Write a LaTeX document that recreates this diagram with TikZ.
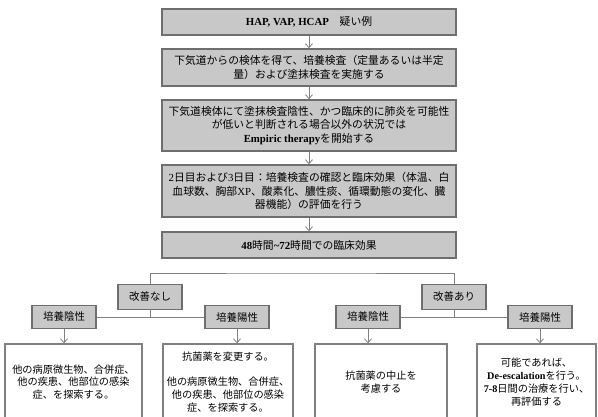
\documentclass[tikz,border=0pt]{standalone}
\usepackage{fontspec}
\setmainfont{Liberation Serif}
\newfontfamily\jpf{Noto Sans CJK JP}
\usetikzlibrary{arrows.meta}
\newcommand\latb[1]{{\rmfamily\bfseries #1}}
\newcommand\latr[1]{{\rmfamily #1}}
\definecolor{boxfill}{HTML}{C8C8C8}
\definecolor{boxline}{HTML}{6E6E6E}
\definecolor{conn}{HTML}{808080}
\begin{document}
\begin{tikzpicture}[x=1pt,y=-1pt,
  mainbox/.style={draw=boxline, line width=1.5pt, fill=boxfill, minimum width=294pt,
    inner sep=0pt, align=center, font=\jpf\fontsize{10.8}{13.5}\selectfont},
  tagbox/.style={draw=boxline, line width=1.5pt, fill=boxfill, minimum width=64pt,
    inner sep=0pt, align=center, font=\jpf\fontsize{10.5}{12}\selectfont},
  endbox/.style={draw=conn, line width=1.3pt, fill=white, minimum height=76pt,
    inner sep=0pt, align=center, font=\jpf\fontsize{10.2}{12.8}\selectfont},
  arr/.style={draw=conn, line width=0.8pt, -{Straight Barb[length=4pt,width=7pt]}},
  link/.style={draw=conn, line width=0.8pt}]
\useasboundingbox (0,0) rectangle (598,416);
\clip (0,0) rectangle (598,416);
\fill[white] (0,0) rectangle (598,416);

% main column
\node[mainbox, minimum height=26pt] (b1) at (309,22)
  {\latb{HAP, VAP, HCAP}　疑い例};
\node[mainbox, minimum height=37pt] (b2) at (309,67.5)
  {下気道からの検体を得て、培養検査（定量あるいは半定\\量）および塗抹検査を実施する};
\node[mainbox, minimum height=51pt] (b3) at (309,125.5)
  {下気道検体にて塗抹検査陰性、かつ臨床的に肺炎を可能性\\が低いと判断される場合以外の状況では\\\latb{Empiric therapy}を開始する};
\node[mainbox, minimum height=52pt] (b4) at (309,191)
  {\latr{2}日目および\latr{3}日目：培養検査の確認と臨床効果（体温、白\\血球数、胸部\latr{XP}、酸素化、膿性痰、循環動態の変化、臓\\器機能）の評価を行う};
\node[mainbox, minimum height=26pt] (b5) at (309,245)
  {\latb{48}時間\latb{\textasciitilde72}時間での臨床効果};

\draw[arr] (b1.south) -- (b2.north);
\draw[arr] (b2.south) -- (b3.north);
\draw[arr] (b3.south) -- (b4.north);
\draw[arr] (b4.south) -- (b5.north);

% second level
\node[tagbox, minimum height=25pt] (n1) at (150,297) {改善なし};
\node[tagbox, minimum height=25pt] (n2) at (454,297) {改善あり};
\coordinate (hl) at (300,273);
\draw[link] (n1.north) |- (hl) -| (n2.north);

% third level
\node[tagbox, minimum height=23pt] (a1) at (64,317) {培養陰性};
\node[tagbox, minimum height=23pt] (a2) at (237,317) {培養陽性};
\node[tagbox, minimum height=23pt] (a3) at (368,317) {培養陰性};
\node[tagbox, minimum height=23pt] (a4) at (540,317) {培養陽性};
\draw[link] (a1.east) -- (a2.west);
\draw[link] (a3.east) -- (a4.west);
\draw[link] (n1.south) -- (n1.south |- a1.east);
\draw[link] (n2.south) -- (n2.south |- a3.east);

% end boxes
\node[endbox, minimum width=137pt] (e1) at (73.5,382)
  {他の病原微生物、合併症、\\他の疾患、他部位の感染\\症、を探索する。};
\node[endbox, minimum width=130pt] (e2) at (228,382)
  {抗菌薬を変更する。\\[12.8pt]他の病原微生物、合併症、\\他の疾患、他部位の感染\\症、を探索する。};
\node[endbox, minimum width=132pt] (e3) at (381,382)
  {抗菌薬の中止を\\考慮する};
\node[endbox, minimum width=119pt] (e4) at (536.5,382)
  {可能であれば、\\\latb{De-escalation}を行う。\\\latb{7-8}日間の治療を行い、\\再評価する};

\draw[arr] (a1.south) -- (a1.south |- e1.north);
\draw[arr] (a2.south) -- (a2.south |- e2.north);
\draw[arr] (a3.south) -- (a3.south |- e3.north);
\draw[arr] (a4.south) -- (a4.south |- e4.north);
\end{tikzpicture}
\end{document}
